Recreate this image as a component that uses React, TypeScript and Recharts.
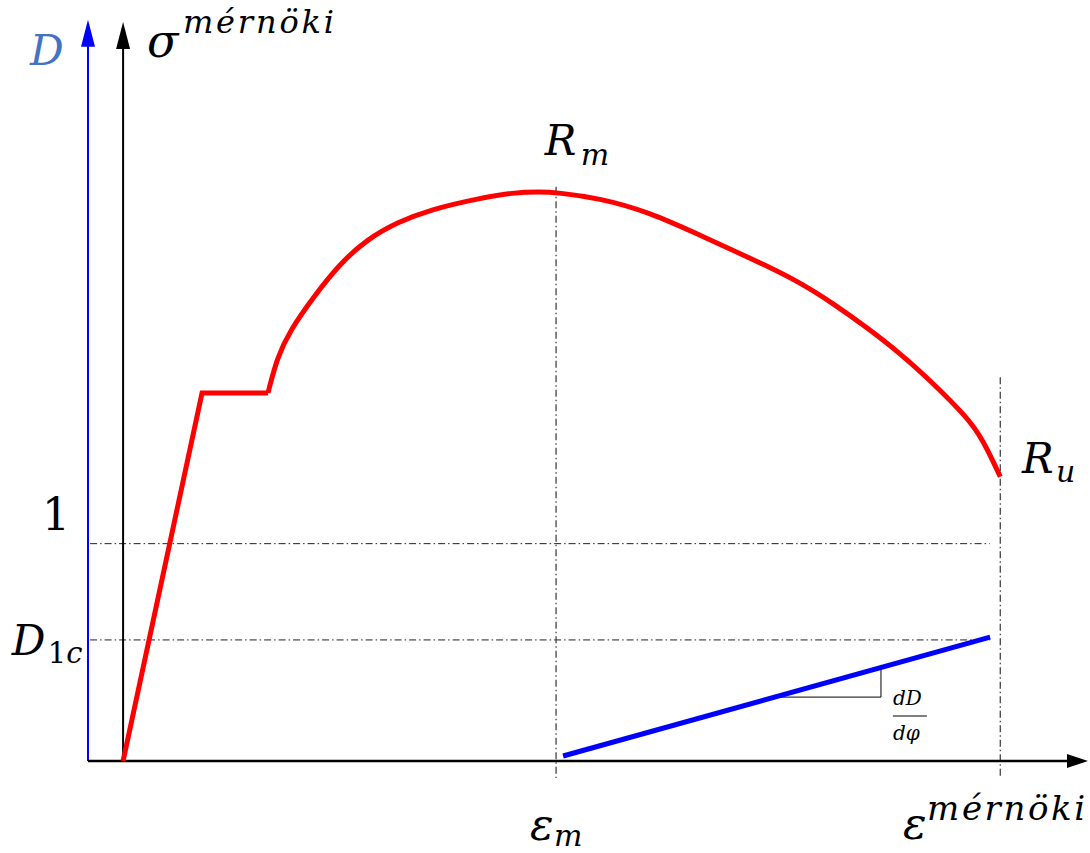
import React from 'react';
import { ComposedChart, Line, XAxis, YAxis, ReferenceLine, ReferenceDot } from 'recharts';

// engineering strain (%) / engineering stress (MPa)
const elasticStrain = [0, 2.25, 4.13];
const elasticStress = [0, 259, 259];

const hardeningStrain = [4.13, 4.39, 4.76, 5.41, 6.18, 6.95, 7.81, 8.75, 10.17, 11.11, 11.88, 12.37, 13.59, 15.02, 16.44, 17.87, 19.29, 20.23, 21.2, 22.14, 23.08, 24.05, 24.51, 25.0];
const hardeningStress = [259, 284, 303, 326, 350, 367, 379, 388, 396, 400, 400.5, 400, 396, 386, 370, 354, 337, 322, 305, 287, 266, 242, 226, 200];

// damage variable D
const damageStrain = [12.54, 24.71];
const damageValue = [0.023, 0.57];

const strainRm = 12.34;
const strainRu = 25;
const stressRm = 404;
const stressRu = 270;
const dOne = 1;
const dCrit = 0.557;

// slope triangle on the damage line
const slopeStrain = [18.66, 21.6];
const slopeD = [0.294, 0.442];

const elastic = elasticStrain.map((e, i) => ({ e, s: elasticStress[i] }));
const hardening = hardeningStrain.map((e, i) => ({ e, s: hardeningStress[i] }));
const damage = damageStrain.map((e, i) => ({ e, d: damageValue[i] }));

const FONT = '"DejaVu Serif", serif';
const DASHDOT = '7 3 1.5 3';

const upArrow = (color: string) => (p: any) => (
  <polygon points={`${p.cx},${p.cy} ${p.cx - 7},${p.cy + 27} ${p.cx + 7},${p.cy + 27}`} fill={color} />
);
const rightArrow = (p: any) => (
  <polygon points={`${p.cx},${p.cy} ${p.cx - 21},${p.cy - 7} ${p.cx - 21},${p.cy + 7}`} fill="#000" />
);

const T = (props: any) => <text fontFamily={FONT} fontStyle="italic" fill="#000" {...props} />;

const labelD = (p: any) => <T x={p.cx} y={p.cy} fontSize={42} fill="#4472C4">D</T>;
const labelSigma = (p: any) => (
  <g>
    <T x={p.cx} y={p.cy} fontSize={46}>σ</T>
    <T x={p.cx + 36} y={p.cy - 24} fontSize={32} textLength={151} lengthAdjust="spacing">mérnöki</T>
  </g>
);
const labelRm = (p: any) => (
  <g>
    <T x={p.cx} y={p.cy} fontSize={42}>R</T>
    <T x={p.cx + 36} y={p.cy + 10} fontSize={30}>m</T>
  </g>
);
const labelRu = (p: any) => (
  <g>
    <T x={p.cx} y={p.cy} fontSize={42}>R</T>
    <T x={p.cx + 34} y={p.cy + 9} fontSize={30}>u</T>
  </g>
);
const labelOne = (p: any) => <T x={p.cx} y={p.cy} fontSize={44} fontStyle="normal">1</T>;
const labelD1c = (p: any) => (
  <g>
    <T x={p.cx} y={p.cy} fontSize={42}>D</T>
    <T x={p.cx + 36} y={p.cy + 8} fontSize={29}>
      <tspan fontStyle="normal">1</tspan>c
    </T>
  </g>
);
const labelEpsM = (p: any) => (
  <g>
    <T x={p.cx} y={p.cy} fontSize={44}>ε</T>
    <T x={p.cx + 24} y={p.cy + 6} fontSize={30}>m</T>
  </g>
);
const labelEps = (p: any) => (
  <g>
    <T x={p.cx} y={p.cy} fontSize={44}>ε</T>
    <T x={p.cx + 24} y={p.cy - 19} fontSize={34} textLength={158} lengthAdjust="spacing">mérnöki</T>
  </g>
);
const labelSlope = (p: any) => (
  <g>
    <T x={p.cx} y={p.cy} fontSize={20}>dD</T>
    <line x1={p.cx} y1={p.cy + 11} x2={p.cx + 34} y2={p.cy + 11} stroke="#000" strokeWidth={1.2} />
    <T x={p.cx} y={p.cy + 35} fontSize={20}>dφ</T>
  </g>
);

export default function App() {
  return (
    <div style={{ position: 'absolute', left: 0, top: 0, background: '#fff' }}>
      <ComposedChart width={1090} height={853} margin={{ top: 22, right: 2, bottom: 92, left: 88 }}>
        <XAxis type="number" dataKey="e" domain={[-1, 27.5]} allowDataOverflow hide />
        <YAxis yAxisId="s" type="number" domain={[0, 520]} allowDataOverflow hide />
        <YAxis yAxisId="d" type="number" domain={[0, 3.4]} allowDataOverflow hide />

        {/* dash-dot guide lines */}
        <ReferenceLine yAxisId="d" ifOverflow="visible" segment={[{ x: -0.94, y: dOne }, { x: 24.7, y: dOne }]} stroke="#222" strokeWidth={1} strokeDasharray={DASHDOT} />
        <ReferenceLine yAxisId="d" ifOverflow="visible" segment={[{ x: -0.94, y: dCrit }, { x: 24.7, y: dCrit }]} stroke="#222" strokeWidth={1} strokeDasharray={DASHDOT} />
        <ReferenceLine yAxisId="s" ifOverflow="visible" segment={[{ x: strainRm, y: stressRm }, { x: strainRm, y: -12 }]} stroke="#444" strokeWidth={1.3} strokeDasharray={DASHDOT} />
        <ReferenceLine yAxisId="s" ifOverflow="visible" segment={[{ x: strainRu, y: stressRu }, { x: strainRu, y: -12 }]} stroke="#444" strokeWidth={1.3} strokeDasharray={DASHDOT} />

        {/* axes */}
        <ReferenceLine yAxisId="d" ifOverflow="visible" segment={[{ x: -1, y: 0 }, { x: -1, y: 3.29 }]} stroke="#0000FF" strokeWidth={2} />
        <ReferenceLine yAxisId="s" ifOverflow="visible" segment={[{ x: 0, y: 0 }, { x: 0, y: 502 }]} stroke="#000" strokeWidth={2} />
        <ReferenceLine yAxisId="s" ifOverflow="visible" segment={[{ x: -1, y: 0 }, { x: 26.95, y: 0 }]} stroke="#000" strokeWidth={2.5} />
        <ReferenceDot yAxisId="d" ifOverflow="visible" x={-1} y={3.41} shape={upArrow('#0000FF')} />
        <ReferenceDot yAxisId="s" ifOverflow="visible" x={0} y={520} shape={upArrow('#000')} />
        <ReferenceDot yAxisId="s" ifOverflow="visible" x={27.5} y={0} shape={rightArrow} />

        {/* slope triangle */}
        <ReferenceLine yAxisId="d" ifOverflow="visible" segment={[{ x: slopeStrain[0], y: slopeD[0] }, { x: slopeStrain[1], y: slopeD[0] }]} stroke="#000" strokeWidth={1} />
        <ReferenceLine yAxisId="d" ifOverflow="visible" segment={[{ x: slopeStrain[1], y: slopeD[0] }, { x: slopeStrain[1], y: slopeD[1] }]} stroke="#000" strokeWidth={1} />

        {/* curves */}
        <Line yAxisId="s" data={elastic} dataKey="s" type="linear" stroke="#FF0000" strokeWidth={5} dot={false} isAnimationActive={false} />
        <Line yAxisId="s" data={hardening} dataKey="s" type="basis" stroke="#FF0000" strokeWidth={5} dot={false} isAnimationActive={false} />
        <Line yAxisId="d" data={damage} dataKey="d" type="linear" stroke="#0000FF" strokeWidth={5} dot={false} isAnimationActive={false} />

        {/* labels */}
        <ReferenceDot yAxisId="s" ifOverflow="visible" x={-2.65} y={489.8} shape={labelD} />
        <ReferenceDot yAxisId="s" ifOverflow="visible" x={0.68} y={495.4} shape={labelSigma} />
        <ReferenceDot yAxisId="s" ifOverflow="visible" x={12.02} y={426.4} shape={labelRm} />
        <ReferenceDot yAxisId="s" ifOverflow="visible" x={25.62} y={202.6} shape={labelRu} />
        <ReferenceDot yAxisId="s" ifOverflow="visible" x={-2.31} y={162.5} shape={labelOne} />
        <ReferenceDot yAxisId="s" ifOverflow="visible" x={-3.17} y={74.6} shape={labelD1c} />
        <ReferenceDot yAxisId="s" ifOverflow="visible" x={11.6} y={-55.6} shape={labelEpsM} />
        <ReferenceDot yAxisId="s" ifOverflow="visible" x={22.23} y={-54.9} shape={labelEps} />
        <ReferenceDot yAxisId="s" ifOverflow="visible" x={21.94} y={39.4} shape={labelSlope} />
      </ComposedChart>
    </div>
  );
}
